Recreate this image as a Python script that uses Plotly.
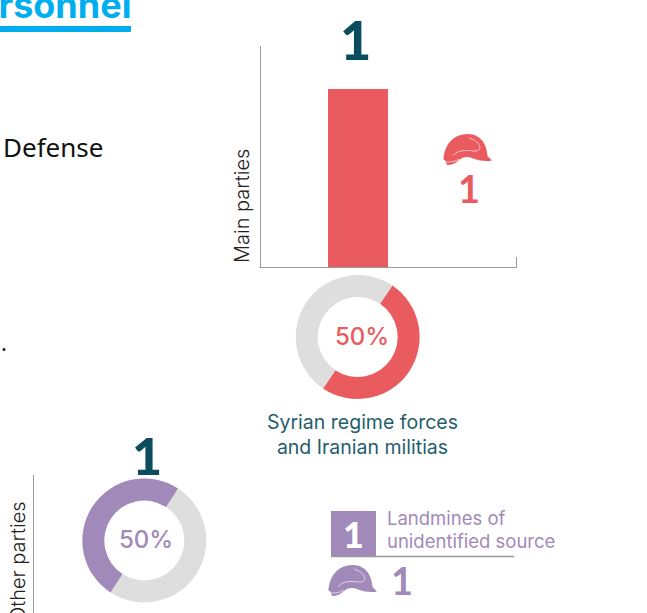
import plotly.graph_objects as go

W, H = 647, 613

# Data
main_party = ["Syrian regime forces<br>and Iranian militias"]
main_values = [1]
main_share = [50, 50]
other_share = [50, 50]
other_total = "1"
main_total = "1"
share_label = "50%"
main_personnel = "1"
landmine_total = "1"
landmine_personnel = "1"
landmine_label = ["Landmines of", "unidentified source"]

RED = "#E95B5F"
GRAY = "#DEDEDE"
PURPLE = "#A18AB9"
TEAL = "#0B4D5E"
TEAL2 = "#1F5E6C"
SKY = "#00AEEF"
AXIS = "#999999"
FONT = "Lato"


def px(x):
    return x / W


def py(y):
    return 1 - y / H


def domain(cx, cy, r):
    return dict(x=[px(cx - r), px(cx + r)], y=[py(cy + r), py(cy - r)])


def text(s, x, y, size, color, xanchor="center", weight=400, angle=0, family=FONT, yanchor="middle"):
    return dict(text=s, x=px(x), y=py(y), xref="paper", yref="paper", showarrow=False,
                xanchor=xanchor, yanchor=yanchor, textangle=angle,
                font=dict(family=family, size=size, color=color, weight=weight),
                borderpad=0, borderwidth=0)


def line(x0, y0, x1, y1, color=AXIS, width=1):
    return dict(type="line", xref="paper", yref="paper", x0=px(x0), y0=py(y0), x1=px(x1), y1=py(y1),
                line=dict(color=color, width=width), layer="above")


def rect(x0, y0, x1, y1, color):
    return dict(type="rect", xref="paper", yref="paper", x0=px(x0), y0=py(y0), x1=px(x1), y1=py(y1),
                fillcolor=color, line=dict(width=0), layer="above")


def path_of(cmds, ox, oy):
    out = []
    for c in cmds:
        if isinstance(c, str):
            out.append(c)
        else:
            out.append(f"{px(ox + c[0]):.5f},{py(oy + c[1]):.5f}")
    return " ".join(out)


HELMET = ["M", (0.5, 25.5), "C", (1, 15), (7, 0), (25, 0), "C", (38, 0), (44, 11), (44.5, 22),
          "L", (49, 26.5), "C", (42, 28), (34, 26), (30, 24.5), "C", (24, 22), (20, 23), (16, 26),
          "C", (13, 29), (9, 31), (4, 31), "L", (3, 27), "Z"]
HELMET_LINE = ["M", (10, 22), "C", (14, 16), (22, 16), (30, 17), "C", (40, 18), (38, 10), (31, 6), "L", (26, 4)]
HELMET_LOW = ["M", (4, 28), "C", (10, 28), (13, 27), (16, 25)]


def helmet(ox, oy, color):
    return [
        dict(type="path", xref="paper", yref="paper", path=path_of(HELMET, ox, oy), fillcolor=color,
             line=dict(width=0), layer="above"),
        dict(type="path", xref="paper", yref="paper", path=path_of(HELMET_LINE, ox, oy),
             line=dict(color="rgba(255,255,255,0.75)", width=0.8), layer="above"),
        dict(type="path", xref="paper", yref="paper", path=path_of(HELMET_LOW, ox, oy),
             line=dict(color="rgba(255,255,255,0.75)", width=0.8), layer="above"),
    ]


fig = go.Figure()

fig.add_trace(go.Bar(x=[0], y=main_values, width=[1], marker=dict(color=RED, line=dict(width=0)),
                     hoverinfo="skip", xaxis="x", yaxis="y"))

fig.add_trace(go.Pie(values=main_share, marker=dict(colors=[RED, GRAY], line=dict(width=0)),
                     hole=40 / 62, rotation=34, direction="clockwise", sort=False,
                     textinfo="none", hoverinfo="skip", showlegend=False,
                     domain=domain(357.7, 337, 62)))

fig.add_trace(go.Pie(values=other_share, marker=dict(colors=[GRAY, PURPLE], line=dict(width=0)),
                     hole=40 / 62, rotation=33, direction="clockwise", sort=False,
                     textinfo="none", hoverinfo="skip", showlegend=False,
                     domain=domain(144.3, 540.5, 62)))

annotations = [
    text("Personnel", 131, 4.5, 36, SKY, xanchor="right", weight=700, family="Inter"),
    text("Defense", 3, 147, 26, "#111111", xanchor="left", family="Noto Sans"),
    text(".", 1, 342, 22, "#222222", xanchor="left", family="Noto Sans"),
    text(main_total, 355, 39, 54, TEAL, weight=900),
    text(main_personnel, 468.5, 188, 38, RED, weight=700),
    text("Main parties", 242, 206, 20, "#222222", angle=-90, weight=300, family="Inter"),
    text(share_label, 362, 336, 24, RED, family="Inter", weight=500),
    text(main_party[0], 362.5, 434, 19.5, TEAL2, family="Inter"),
    text(other_total, 147, 454.5, 52, TEAL, weight=900),
    text("Other parties", 18, 562, 20, "#222222", angle=-90, weight=300, family="Inter"),
    text(share_label, 146, 539, 24, PURPLE, family="Inter", weight=500),
    text(landmine_total, 353.5, 534, 36, "#FFFFFF", weight=900),
    text(landmine_label[0], 387, 518, 18.5, PURPLE, xanchor="left", family="Inter"),
    text(landmine_label[1], 387, 541, 18.5, PURPLE, xanchor="left", family="Inter"),
    text(landmine_personnel, 402, 580, 38, PURPLE, weight=700),
]

shapes = [
    rect(0, 26, 131, 32, SKY),
    line(260.5, 46, 260.5, 267.5),
    line(259.5, 267.5, 517, 267.5),
    line(516.5, 257, 516.5, 267.5),
    line(33.5, 475, 33.5, 613),
    rect(331, 511, 376, 556, PURPLE),
    line(331, 556.5, 514, 556.5, width=1.5),
] + helmet(443, 134, RED) + helmet(328, 565, PURPLE)

fig.update_layout(
    width=W, height=H, autosize=False,
    margin=dict(l=0, r=0, t=0, b=0, pad=0),
    paper_bgcolor="white", plot_bgcolor="white",
    showlegend=False,
    xaxis=dict(domain=[px(260.5), px(517)], range=[-(358 - 260.5) / 60, (517 - 358) / 60],
               visible=False, fixedrange=True),
    yaxis=dict(domain=[py(267.5), py(46)], range=[0, (267.5 - 46) / (267.5 - 89)],
               visible=False, fixedrange=True),
    annotations=annotations,
    shapes=shapes,
)

fig.write_html("out.html", config=dict(displayModeBar=False),
               post_script="document.body.style.margin='0';document.body.style.overflow='hidden';")
